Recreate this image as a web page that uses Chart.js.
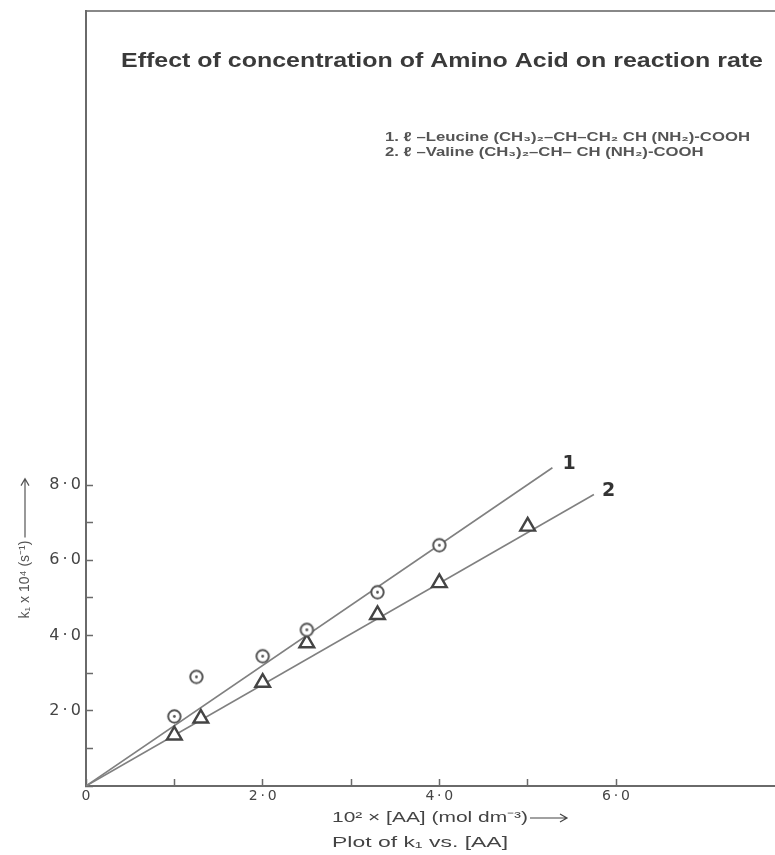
<!DOCTYPE html>
<html>
<head>
<meta charset="utf-8">
<script src="https://cdn.jsdelivr.net/npm/chart.js@4.4.1/dist/chart.umd.min.js"></script>
<style>
  html, body { margin: 0; padding: 0; background: #fff; overflow: hidden; }
  #wrap { width: 775px; height: 855px; }
  canvas { display: block; }
</style>
</head>
<body>
<div id="wrap"><canvas id="rateChart" width="775" height="855"></canvas></div>
<script>
// Data (x = 10^2 [AA], y = k1 x 10^4)
const leucineConc = [1.0, 1.25, 2.0, 2.5, 3.3, 4.0];
const leucineK = [1.85, 2.9, 3.45, 4.15, 5.15, 6.4];
const valineConc = [1.0, 1.3, 2.0, 2.5, 3.3, 4.0, 5.0];
const valineK = [1.35, 1.8, 2.75, 3.8, 4.55, 5.4, 6.9];

// Drawn best-fit lines (through origin)
const line1Conc = [0, 5.28];
const line1K = [0, 8.46];
const line2Conc = [0, 5.75];
const line2K = [0, 7.75];

// Axis ticks
const xTickValues = [0, 1, 2, 3, 4, 5, 6];
const yTickValues = [0, 1, 2, 3, 4, 5, 6, 7, 8];

const titleText = 'Effect of concentration of Amino Acid on reaction rate';
const legendLines = [
    '1. \u2113 \u2013Leucine (CH\u2083)\u2082\u2013CH\u2013CH\u2082 CH (NH\u2082)-COOH',
    '2. \u2113 \u2013Valine (CH\u2083)\u2082\u2013CH\u2013 CH (NH\u2082)-COOH'
];
const yTitle = 'k\u2081 x 10\u2074 (s\u207B\u00B9)';
const xTitle = '10\u00B2 \u00D7 [AA] (mol dm\u207B\u00B3)';
const caption = 'Plot of k\u2081 vs. [AA]';

const ink = '#444';
const axisGrey = '#6a6a6a';

const toPoints = (xs, ys) => xs.map((x, i) => ({ x: x, y: ys[i] }));

// circle with a dot in the middle
function makeDotCircle() {
    const c = document.createElement('canvas');
    c.width = 17; c.height = 17;
    const g = c.getContext('2d');
    g.fillStyle = '#fff';
    g.strokeStyle = '#555';
    g.lineWidth = 2;
    g.beginPath();
    g.arc(8.5, 8.5, 6.2, 0, Math.PI * 2);
    g.fill();
    g.stroke();
    g.fillStyle = '#555';
    g.beginPath();
    g.arc(8.5, 8.5, 1.4, 0, Math.PI * 2);
    g.fill();
    return c;
}

function fmtTick(v) {
    return v.toFixed(1).replace('.', '\u2009\u00B7\u2009');
}

function arrow(ctx, x1, y, x2) {
    ctx.beginPath();
    ctx.moveTo(x1, y);
    ctx.lineTo(x2, y);
    ctx.moveTo(x2 - 7, y - 4);
    ctx.lineTo(x2, y);
    ctx.lineTo(x2 - 7, y + 4);
    ctx.stroke();
}

// the scan is stretched sideways, so stretch text to the width it has there
function stretchText(ctx, text, x, y, sx) {
    ctx.save();
    ctx.translate(x, y);
    ctx.scale(sx, 1);
    ctx.fillText(text, 0, 0);
    ctx.restore();
}

function noPadding(s) {
    s.paddingTop = 0; s.paddingBottom = 0;
    s.paddingLeft = 0; s.paddingRight = 0;
}

// texts that sit on the plot
const annotations = {
    id: 'annotations',
    afterDraw(chart) {
        const ctx = chart.ctx;
        const xs = chart.scales.x;
        const ys = chart.scales.y;
        ctx.save();
        ctx.textBaseline = 'middle';
        ctx.textAlign = 'left';

        ctx.fillStyle = '#3a3a3a';
        ctx.font = 'bold 21px "Liberation Sans", Arial, sans-serif';
        stretchText(ctx, titleText, 121, 61, 642 / ctx.measureText(titleText).width);

        ctx.fillStyle = '#555';
        ctx.font = 'bold 13px "Liberation Sans", Arial, sans-serif';
        const lsx = 365 / ctx.measureText(legendLines[0]).width;
        stretchText(ctx, legendLines[0], 385, 137, lsx);
        stretchText(ctx, legendLines[1], 385, 152, lsx);

        // line labels
        ctx.fillStyle = '#333';
        ctx.font = 'bold 19px "DejaVu Sans", sans-serif';
        ctx.fillText('1', xs.getPixelForValue(line1Conc[1]) + 10, ys.getPixelForValue(line1K[1]) - 4);
        ctx.fillText('2', xs.getPixelForValue(line2Conc[1]) + 8, ys.getPixelForValue(line2K[1]) - 3);

        // y axis title, rotated
        ctx.save();
        ctx.translate(25, ys.getPixelForValue(4.45));
        ctx.rotate(-Math.PI / 2);
        ctx.fillStyle = '#555';
        ctx.font = '14px "Liberation Sans", Arial, sans-serif';
        ctx.fillText(yTitle, 0, 0);
        const w = ctx.measureText(yTitle).width;
        ctx.strokeStyle = '#555';
        ctx.lineWidth = 1.2;
        arrow(ctx, w + 3, 0, 140);
        ctx.restore();

        // x axis title and caption
        ctx.fillStyle = ink;
        ctx.font = '15px "Liberation Sans", Arial, sans-serif';
        stretchText(ctx, xTitle, 332, 818, 196 / ctx.measureText(xTitle).width);
        ctx.strokeStyle = ink;
        ctx.lineWidth = 1.2;
        arrow(ctx, 530, 818, 567);
        ctx.font = '15px "Liberation Sans", Arial, sans-serif';
        stretchText(ctx, caption, 332, 843, 176 / ctx.measureText(caption).width);

        ctx.restore();
    }
};

const ctx = document.getElementById('rateChart').getContext('2d');
const chart = new Chart(ctx, {
    type: 'scatter',
    data: {
        datasets: [
            {
                label: 'l-Leucine',
                data: toPoints(leucineConc, leucineK),
                pointStyle: makeDotCircle(),
                pointRadius: 7,
            },
            {
                label: 'l-Valine',
                data: toPoints(valineConc, valineK),
                pointStyle: 'triangle',
                pointRadius: 8.5,
                backgroundColor: '#fff',
                borderColor: '#444',
                borderWidth: 2.4,
            },
            {
                label: 'line 1',
                data: toPoints(line1Conc, line1K),
                showLine: true,
                pointRadius: 0,
                borderColor: '#808080',
                borderWidth: 1.6,
            },
            {
                label: 'line 2',
                data: toPoints(line2Conc, line2K),
                showLine: true,
                pointRadius: 0,
                borderColor: '#808080',
                borderWidth: 1.6,
            }
        ]
    },
    options: {
        responsive: false,
        animation: false,
        devicePixelRatio: 1,
        layout: { padding: 0, autoPadding: false },
        plugins: {
            legend: { display: false },
            tooltip: { enabled: false },
            title: { display: false }
        },
        scales: {
            x: {
                type: 'linear',
                position: 'bottom',
                min: 0,
                max: 7.8,
                afterBuildTicks: s => { s.ticks = xTickValues.map(v => ({ value: v })); },
                afterFit: s => { s.height = 69; noPadding(s); },
                ticks: {
                    padding: 9,
                    color: '#444',
                    font: { family: 'DejaVu Sans', size: 14 },
                    maxRotation: 0,
                    autoSkip: false,
                    callback: v => v === 0 ? '0' : (v % 2 === 0 ? fmtTick(v) : '')
                },
                grid: {
                    drawOnChartArea: false,
                    drawTicks: true,
                    tickLength: -7,
                    tickColor: axisGrey,
                    tickWidth: 1.5
                },
                border: { display: true, color: axisGrey, width: 2 }
            },
            x2: {
                type: 'linear',
                position: 'top',
                min: 0,
                max: 7.8,
                display: true,
                afterFit: s => { s.height = 11; noPadding(s); },
                ticks: { display: false },
                grid: { display: false },
                border: { display: true, color: '#888', width: 2 }
            },
            y: {
                type: 'linear',
                position: 'left',
                min: 0,
                max: 20.6,
                afterBuildTicks: s => { s.ticks = yTickValues.map(v => ({ value: v })); },
                afterFit: s => { s.width = 86; noPadding(s); },
                ticks: {
                    padding: 12,
                    color: '#444',
                    font: { family: 'DejaVu Sans', size: 16 },
                    autoSkip: false,
                    callback: v => (v > 0 && v % 2 === 0) ? fmtTick(v) : ''
                },
                grid: {
                    drawOnChartArea: false,
                    drawTicks: true,
                    tickLength: -7,
                    tickColor: axisGrey,
                    tickWidth: 1.5
                },
                border: { display: true, color: axisGrey, width: 2 }
            }
        }
    },
    plugins: [annotations]
});
</script>
</body>
</html>
